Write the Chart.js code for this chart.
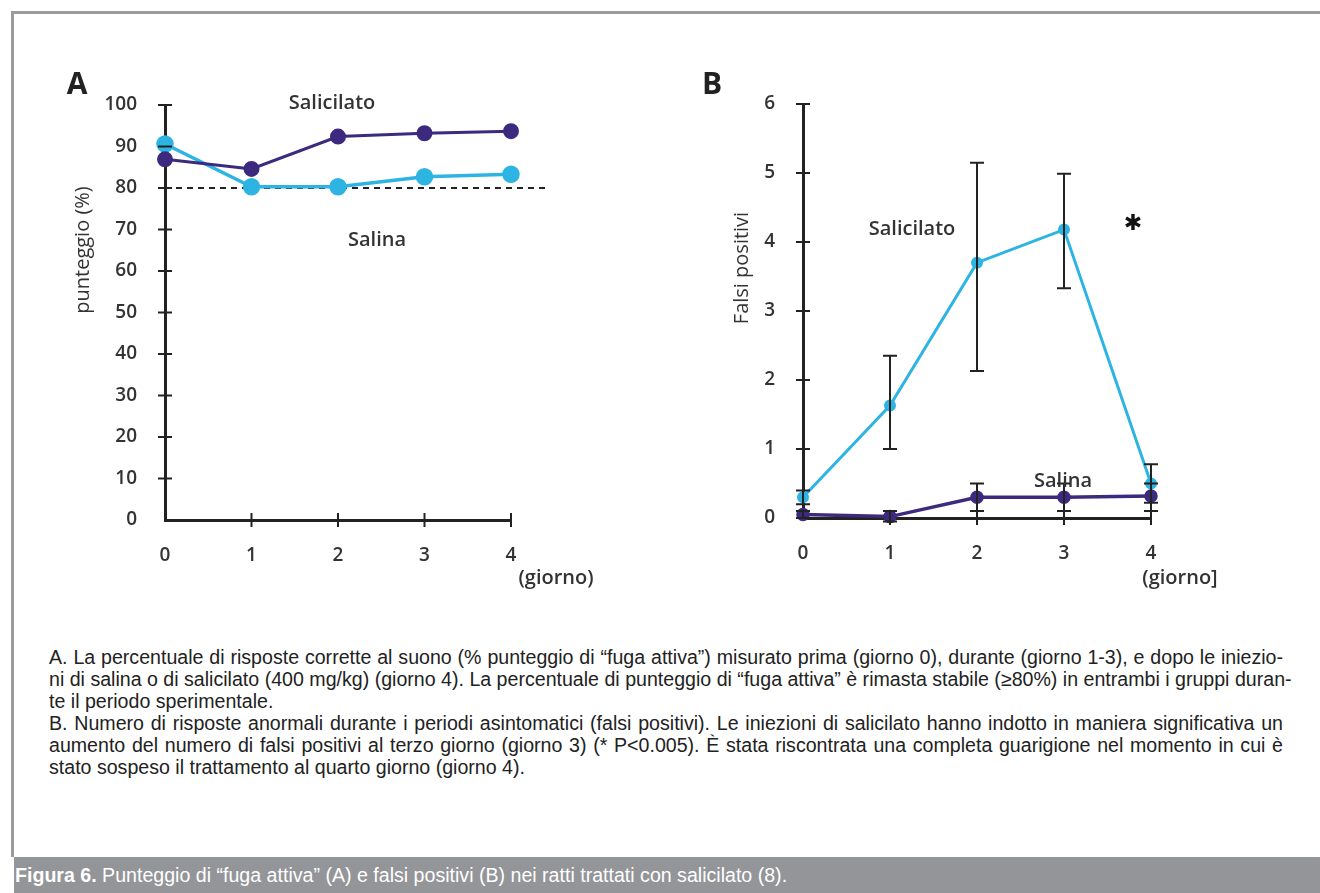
<!DOCTYPE html>
<html lang="it">
<head>
<meta charset="utf-8">
<title>Figura 6</title>
<script src="https://cdn.jsdelivr.net/npm/chart.js@4.4.1/dist/chart.umd.min.js"></script>
<style>
  body { margin:0; width:1320px; height:893px; overflow:hidden; background:#fff; position:relative;
         font-family:"Liberation Sans",Arial,sans-serif; }
  #cornice { position:absolute; left:11px; top:11px; width:1320px; height:846px;
             border-left:3px solid #9b9b9b; border-top:3px solid #9b9b9b; box-sizing:border-box; }
  .pannello { position:absolute; top:60px; }
  #pannelloA { left:40px; }
  #pannelloB { left:680px; }
  #didascalia { position:absolute; left:49px; top:646px; width:1234px; font-size:19.6px; line-height:22px; color:#222; }
  .riga { text-align:justify; text-align-last:justify; white-space:nowrap; }
  .fine { text-align:left; text-align-last:left; }
  #barra { position:absolute; left:14px; top:857px; width:1306px; height:36px; background:#939598;
           color:#fff; font-size:19.6px; line-height:36px; white-space:nowrap; padding-left:1px; box-sizing:border-box; }
</style>
</head>
<body>
<div id="cornice"></div>
<canvas id="pannelloA" class="pannello" width="600" height="560"></canvas>
<canvas id="pannelloB" class="pannello" width="600" height="560"></canvas>

<div id="didascalia">
  <div class="riga">A. La percentuale di risposte corrette al suono (% punteggio di “fuga attiva”) misurato prima (giorno 0), durante (giorno 1-3), e dopo le iniezio-</div>
  <div class="riga">ni di salina o di salicilato (400 mg/kg) (giorno 4). La percentuale di punteggio di “fuga attiva” è rimasta stabile (≥80%) in entrambi i gruppi duran-</div>
  <div class="riga fine">te il periodo sperimentale.</div>
  <div class="riga">B. Numero di risposte anormali durante i periodi asintomatici (falsi positivi). Le iniezioni di salicilato hanno indotto in maniera significativa un</div>
  <div class="riga">aumento del numero di falsi positivi al terzo giorno (giorno 3) (* P&lt;0.005). È stata riscontrata una completa guarigione nel momento in cui è</div>
  <div class="riga fine">stato sospeso il trattamento al quarto giorno (giorno 4).</div>
</div>
<div id="barra"><b>Figura 6.</b> Punteggio di “fuga attiva” (A) e falsi positivi (B) nei ratti trattati con salicilato (8).</div>

<script>
// Giorni (asse x, comune ai due pannelli)
const giorni = ['0', '1', '2', '3', '4'];

// Pannello A: punteggio (%)
const ticksA = [0, 10, 20, 30, 40, 50, 60, 70, 80, 90, 100];
const salicilatoA = [86.9, 84.6, 92.4, 93.2, 93.7];
const salinaA = [90.6, 80.3, 80.3, 82.7, 83.3];
const sogliaA = 80;

// Pannello B: falsi positivi (media, minimo e massimo della barra d'errore)
const ticksB = [0, 1, 2, 3, 4, 5, 6];
const salicilatoB = [0.3, 1.63, 3.7, 4.18, 0.5];
const salicilatoBmin = [0.2, 1.0, 2.13, 3.33, 0.22];
const salicilatoBmax = [0.4, 2.35, 5.15, 4.99, 0.78];
const salinaB = [0.05, 0.02, 0.3, 0.3, 0.32];
const salinaBmin = [0.0, -0.05, 0.1, 0.1, 0.1];
const salinaBmax = [0.1, 0.1, 0.5, 0.5, 0.5];

const VIOLA = '#3c2a7e';
const AZZURRO = '#2db4e2';
const SCURO = '#222';
const fontTick = { family: 'Open Sans', size: 19, weight: '600' };

// Tacche che attraversano gli assi
const tacche = {
  id: 'tacche',
  afterDraw(chart) {
    const { ctx, chartArea, scales: { x, y } } = chart;
    ctx.save();
    ctx.strokeStyle = SCURO;
    ctx.lineWidth = 2;
    y.ticks.forEach(t => {
      if (t.value === 0) return;
      const py = y.getPixelForValue(t.value);
      ctx.beginPath();
      ctx.moveTo(chartArea.left - 7, py);
      ctx.lineTo(chartArea.left + 7, py);
      ctx.stroke();
    });
    x.ticks.forEach((t, i) => {
      if (i === 0) return;
      const px = x.getPixelForValue(i);
      ctx.beginPath();
      ctx.moveTo(px, chartArea.bottom - 7);
      ctx.lineTo(px, chartArea.bottom + 7);
      ctx.stroke();
    });
    ctx.restore();
  }
};

// Barre d'errore (dataset con errMin / errMax)
const barreErrore = {
  id: 'barreErrore',
  afterDatasetsDraw(chart) {
    const { ctx, scales: { x, y } } = chart;
    ctx.save();
    ctx.strokeStyle = SCURO;
    ctx.lineWidth = 2;
    chart.data.datasets.forEach(ds => {
      if (!ds.errMin) return;
      ds.errMin.forEach((lo, j) => {
        const px = x.getPixelForValue(j);
        const yl = y.getPixelForValue(lo);
        const yh = y.getPixelForValue(ds.errMax[j]);
        ctx.beginPath();
        ctx.moveTo(px, yl); ctx.lineTo(px, yh);
        ctx.moveTo(px - 7, yl); ctx.lineTo(px + 7, yl);
        ctx.moveTo(px - 7, yh); ctx.lineTo(px + 7, yh);
        ctx.stroke();
      });
    });
    ctx.restore();
  }
};

// Linea tratteggiata all'80%
const soglia = {
  id: 'soglia',
  beforeDatasetsDraw(chart, args, opts) {
    if (opts.valore === undefined) return;
    const { ctx, chartArea, scales: { y } } = chart;
    const py = y.getPixelForValue(opts.valore);
    ctx.save();
    ctx.strokeStyle = SCURO;
    ctx.lineWidth = 2;
    ctx.setLineDash([6, 5]);
    ctx.beginPath();
    ctx.moveTo(chartArea.left, py);
    ctx.lineTo(chartArea.right + 36, py);
    ctx.stroke();
    ctx.restore();
  }
};

// Scritte libere sul pannello
const testi = {
  id: 'testi',
  afterDraw(chart, args, opts) {
    const ctx = chart.ctx;
    (opts.voci || []).forEach(v => {
      ctx.save();
      ctx.fillStyle = v.colore || '#333';
      ctx.font = v.font;
      ctx.textAlign = 'center';
      ctx.textBaseline = 'middle';
      ctx.translate(v.x, v.y);
      if (v.ruota) ctx.rotate(-Math.PI / 2);
      ctx.fillText(v.t, 0, 0);
      ctx.restore();
    });
  }
};

function scale(ticksVal, max, area) {
  return {
    x: {
      type: 'category',
      offset: false,
      grid: { display: false },
      border: { display: true, color: SCURO, width: 3 },
      ticks: { padding: 16, color: '#333', font: fontTick, maxRotation: 0 },
      afterFit: s => { s.height = 560 - area.bottom; }
    },
    y: {
      min: 0,
      max: max,
      afterBuildTicks: s => { s.ticks = ticksVal.map(v => ({ value: v })); },
      grid: { display: false },
      border: { display: true, color: SCURO, width: 3 },
      ticks: { padding: 20, color: '#333', font: fontTick },
      afterFit: s => { s.width = area.left; }
    }
  };
}

Chart.defaults.font.family = 'Open Sans';

new Chart(document.getElementById('pannelloA'), {
  type: 'line',
  data: {
    labels: giorni,
    datasets: [
      { label: 'Salicilato', data: salicilatoA, borderColor: VIOLA, backgroundColor: VIOLA,
        borderWidth: 3, pointRadius: 6.5, clip: false },
      { label: 'Salina', data: salinaA, borderColor: AZZURRO, backgroundColor: AZZURRO,
        borderWidth: 3.5, pointRadius: 7, clip: false }
    ]
  },
  options: {
    responsive: false,
    devicePixelRatio: 1,
    animation: false,
    layout: { padding: { top: 45, right: 129, left: 0, bottom: 0 } },
    scales: scale(ticksA, 100, { left: 125, bottom: 460 }),
    plugins: {
      legend: { display: false },
      tooltip: { enabled: false },
      soglia: { valore: sogliaA },
      testi: { voci: [
        { t: 'A', x: 37, y: 25, font: 'bold 30px "Open Sans"', colore: '#222' },
        { t: 'Salicilato', x: 292, y: 43, font: '600 20px "Open Sans"' },
        { t: 'Salina', x: 337, y: 180, font: '600 20px "Open Sans"' },
        { t: 'punteggio (%)', x: 43, y: 190, font: '500 20px "Open Sans"', ruota: true },
        { t: '(giorno)', x: 516, y: 518, font: '600 20px "Open Sans"' }
      ] }
    }
  },
  plugins: [soglia, tacche, testi]
});

new Chart(document.getElementById('pannelloB'), {
  type: 'line',
  data: {
    labels: giorni,
    datasets: [
      { label: 'Salina', data: salinaB, errMin: salinaBmin, errMax: salinaBmax,
        borderColor: VIOLA, backgroundColor: VIOLA, borderWidth: 3.5, pointRadius: 5, clip: false },
      { label: 'Salicilato', data: salicilatoB, errMin: salicilatoBmin, errMax: salicilatoBmax,
        borderColor: AZZURRO, backgroundColor: AZZURRO, borderWidth: 3, pointRadius: 4.5, clip: false }
    ]
  },
  options: {
    responsive: false,
    devicePixelRatio: 1,
    animation: false,
    layout: { padding: { top: 44, right: 129, left: 0, bottom: 0 } },
    scales: scale(ticksB, 6, { left: 123, bottom: 458 }),
    plugins: {
      legend: { display: false },
      tooltip: { enabled: false },
      testi: { voci: [
        { t: 'B', x: 32, y: 25, font: 'bold 30px "Open Sans"', colore: '#222' },
        { t: 'Salicilato', x: 232, y: 169, font: '600 20px "Open Sans"' },
        { t: 'Salina', x: 383, y: 421, font: '600 20px "Open Sans"' },
        { t: 'Falsi positivi', x: 62, y: 208, font: '500 20px "Open Sans"', ruota: true },
        { t: '(giorno]', x: 500, y: 518, font: '600 20px "Open Sans"' },
        { t: '✱', x: 453, y: 164, font: 'bold 22px "DejaVu Sans"', colore: '#111' }
      ] }
    }
  },
  plugins: [barreErrore, tacche, testi]
});
</script>
</body>
</html>
